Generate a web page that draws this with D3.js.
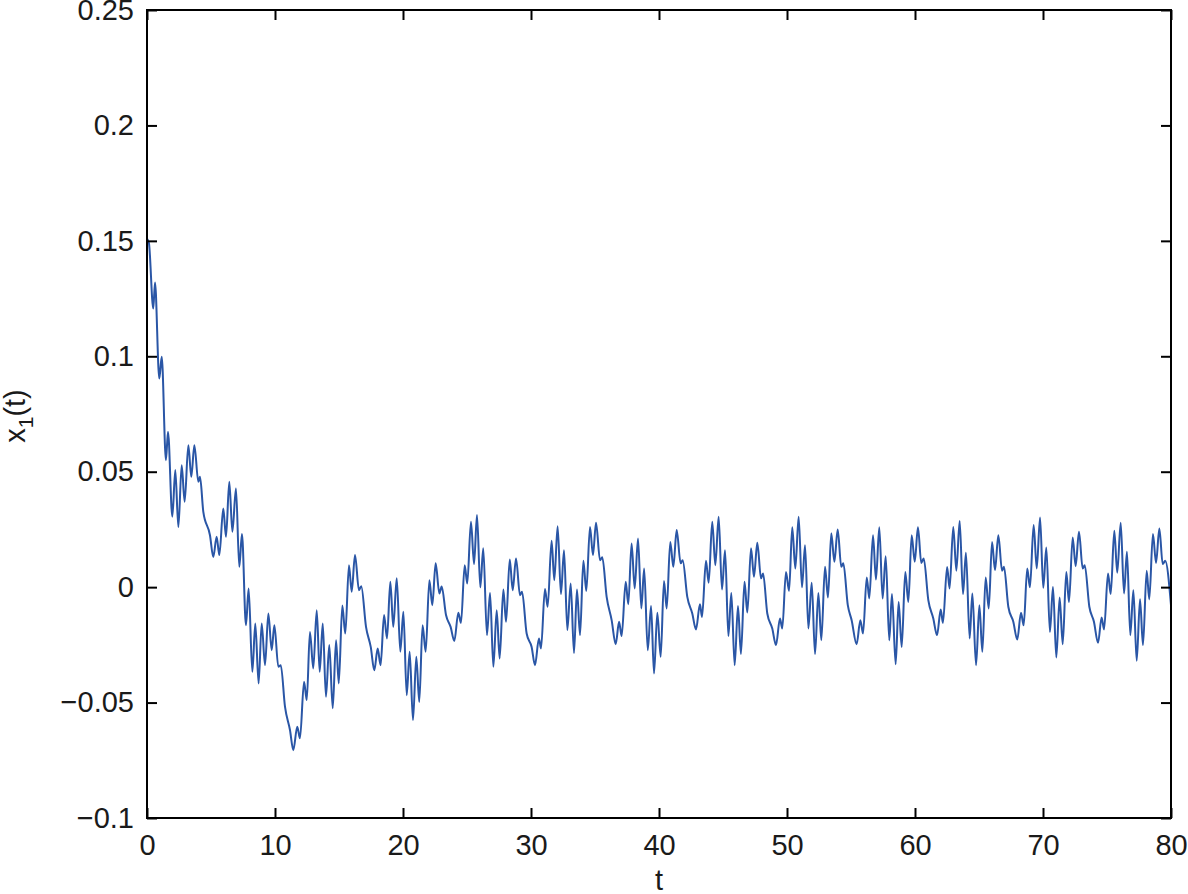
<!DOCTYPE html>
<html>
<head>
<meta charset="utf-8">
<script src="https://cdn.jsdelivr.net/npm/d3@7"></script>
<style>
  html, body { margin: 0; padding: 0; background: #fff; }
  svg { display: block; }
  text { font-family: "Liberation Sans", Arial, Helvetica, sans-serif; fill: #1a1a1a; }
</style>
</head>
<body>
<script>
// ---- data ----
const tValues = [
  0, 0.15, 0.49, 0.625, 0.96, 1.15, 1.48, 1.64, 1.98, 2.21, 2.45, 2.71, 2.94, 3.23, 3.46, 3.70, 4.01, 4.14, 4.40, 4.92,
  5.18, 5.44, 5.65, 5.96, 6.17, 6.43, 6.67, 6.95, 7.21, 7.42, 7.73, 7.94, 8.23, 8.46, 8.72, 8.96, 9.22, 9.48, 9.74, 9.95,
  10.26, 10.45, 10.78, 11.17, 11.43, 11.74, 11.95, 12.27, 12.48, 12.73, 12.99, 13.26, 13.49, 13.73, 13.98, 14.24, 14.51, 14.77, 14.98, 15.26,
  15.49, 15.78, 15.99, 16.25, 16.56, 16.74, 17.11, 17.48, 17.76, 18.02, 18.25, 18.52, 18.75, 19.01, 19.24, 19.51, 19.79, 20.03, 20.29, 20.52,
  20.78, 21.04, 21.27, 21.53, 21.77, 22.06, 22.29, 22.55, 22.84, 23.02, 23.36, 23.72, 24.01, 24.32, 24.53, 24.82, 25.02, 25.31, 25.55, 25.78,
  26.04, 26.27, 26.56, 26.80, 27.06, 27.32, 27.55, 27.84, 28.05, 28.34, 28.57, 28.83, 29.14, 29.30, 29.66, 30.05, 30.31, 30.62, 30.78, 31.09,
  31.30, 31.61, 31.82, 32.08, 32.34, 32.58, 32.84, 33.10, 33.36, 33.59, 33.83, 34.09, 34.32, 34.61, 34.84, 35.08, 35.39, 35.57, 35.91, 36.30,
  36.62, 36.88, 37.08, 37.40, 37.60, 37.86, 38.10, 38.36, 38.62, 38.84, 39.12, 39.38, 39.61, 39.87, 40.13, 40.39, 40.60, 40.88, 41.12, 41.38,
  41.69, 41.85, 42.21, 42.60, 42.89, 43.20, 43.36, 43.67, 43.88, 44.16, 44.40, 44.66, 44.92, 45.16, 45.42, 45.65, 45.91, 46.17, 46.40, 46.68,
  46.90, 47.19, 47.42, 47.68, 47.97, 48.13, 48.46, 48.85, 49.14, 49.45, 49.63, 49.92, 50.16, 50.41, 50.65, 50.91, 51.17, 51.41, 51.67, 51.93,
  52.19, 52.45, 52.68, 52.97, 53.20, 53.46, 53.70, 53.96, 54.24, 54.40, 54.75, 55.05, 55.44, 55.73, 55.94, 56.23, 56.43, 56.72, 56.95, 57.21,
  57.47, 57.71, 57.99, 58.20, 58.49, 58.72, 58.96, 59.24, 59.48, 59.74, 59.98, 60.23, 60.49, 60.68, 61.04, 61.43, 61.72, 62.01, 62.18, 62.51,
  62.70, 62.99, 63.23, 63.49, 63.75, 63.98, 64.27, 64.48, 64.77, 65.03, 65.26, 65.52, 65.76, 66.02, 66.25, 66.51, 66.80, 66.95, 67.29, 67.68,
  67.99, 68.28, 68.49, 68.77, 68.98, 69.27, 69.51, 69.77, 70.02, 70.26, 70.54, 70.78, 71.04, 71.30, 71.54, 71.82, 72.03, 72.32, 72.55, 72.81,
  73.10, 73.26, 73.62, 73.98, 74.30, 74.58, 74.77, 75.08, 75.29, 75.57, 75.80, 76.07, 76.33, 76.56, 76.82, 77.06, 77.32, 77.58, 77.81, 78.10,
  78.30, 78.59, 78.83, 79.09, 79.35, 79.55, 80.0
];
const x1Values = [
  0.151, 0.149, 0.1207, 0.132, 0.0904, 0.0998, 0.055, 0.0673, 0.0305, 0.0507, 0.026, 0.0528, 0.037, 0.0615, 0.0478, 0.0615, 0.0456, 0.0478, 0.0326, 0.0225,
  0.0131, 0.0218, 0.0139, 0.0341, 0.0218, 0.0456, 0.024, 0.0427, 0.0088, 0.023, -0.0165, -0.0006, -0.0367, -0.0157, -0.0417, -0.0157, -0.0338, -0.0114, -0.0273, -0.0165,
  -0.0345, -0.0338, -0.0518, -0.0619, -0.0706, -0.0605, -0.0655, -0.041, -0.0489, -0.0194, -0.0352, -0.01, -0.0367, -0.0157, -0.0475, -0.0251, -0.0525, -0.023, -0.0417, -0.008,
  -0.0201, 0.0095, -0.002, 0.0139, -0.0013, 0.0004, -0.0172, -0.0259, -0.036, -0.0266, -0.0338, -0.0121, -0.0222, 0.0023, -0.0172, 0.0038, -0.028, -0.0107, -0.0468, -0.028,
  -0.0576, -0.0302, -0.0497, -0.0165, -0.028, 0.003, -0.0078, 0.0103, -0.0027, 0.0003, -0.0121, -0.0172, -0.0233, -0.0111, -0.0155, 0.0095, 0.0016, 0.0283, 0.01, 0.0312,
  -0.0001, 0.0168, -0.0208, -0.0025, -0.0345, -0.01, -0.0309, -0.001, -0.015, 0.012, -0.0013, 0.0124, -0.0035, -0.002, -0.0201, -0.0259, -0.0338, -0.0222, -0.0266, -0.0008,
  -0.0085, 0.0201, 0.003, 0.0264, -0.003, 0.016, -0.0186, 0.0016, -0.0285, -0.001, -0.0208, 0.0114, -0.0016, 0.0261, 0.0139, 0.0279, 0.0117, 0.0129, -0.0042, -0.0143,
  -0.0247, -0.015, -0.0212, 0.0023, -0.0074, 0.0189, -0.0006, 0.0211, -0.0092, 0.0081, -0.0273, -0.0082, -0.0374, -0.0111, -0.0302, 0.0027, -0.0092, 0.0196, 0.0088, 0.0247,
  0.0103, 0.0117, -0.0042, -0.0114, -0.0183, -0.0074, -0.0129, 0.0114, 0.0019, 0.0283, 0.0095, 0.0305, -0.001, 0.016, -0.0212, -0.0025, -0.0338, -0.0082, -0.029, 0.0023,
  -0.011, 0.0168, 0.0045, 0.0192, 0.0038, 0.0059, -0.0114, -0.0179, -0.0251, -0.0136, -0.0179, 0.0066, -0.0016, 0.0259, 0.0081, 0.0305, -0.0001, 0.0182, -0.0179, 0.0019,
  -0.029, -0.0025, -0.023, 0.0088, -0.0045, 0.0233, 0.011, 0.025, 0.0088, 0.0103, -0.0078, -0.0143, -0.0247, -0.0143, -0.0201, 0.0042, -0.0049, 0.0225, 0.0033, 0.0259,
  -0.0049, 0.0134, -0.023, -0.003, -0.0334, -0.0064, -0.0259, 0.0066, -0.0064, 0.0225, 0.011, 0.0259, 0.0105, 0.0124, -0.0056, -0.0136, -0.0208, -0.0097, -0.0155, 0.0087,
  -0.0006, 0.0261, 0.0071, 0.0287, -0.003, 0.0149, -0.0222, -0.0027, -0.0338, -0.0078, -0.028, 0.0042, -0.0092, 0.0196, 0.0074, 0.0225, 0.0071, 0.0088, -0.0085, -0.015,
  -0.0227, -0.0111, -0.0165, 0.0081, -0.0001, 0.0269, 0.0081, 0.0302, -0.0003, 0.0172, -0.0194, 0.0001, -0.0305, -0.0045, -0.0247, 0.0066, -0.0064, 0.0215, 0.0091, 0.024,
  0.0081, 0.0095, -0.0085, -0.015, -0.0241, -0.0131, -0.0183, 0.0059, -0.003, 0.0244, 0.0062, 0.0279, -0.0027, 0.0153, -0.0208, -0.0013, -0.0319, -0.0052, -0.0251, 0.0071,
  -0.0053, 0.023, 0.0105, 0.0254, 0.01, 0.0114, -0.0078
];
const xTicks = [0, 10, 20, 30, 40, 50, 60, 70, 80];
const yTicks = [-0.1, -0.05, 0, 0.05, 0.1, 0.15, 0.2, 0.25];
const yTickLabels = ["\u22120.1", "\u22120.05", "0", "0.05", "0.1", "0.15", "0.2", "0.25"];
const xLabel = "t";

// ---- layout ----
const W = 1188, H = 894;
const margin = { left: 147, right: 17, top: 10, bottom: 76 };
const iw = W - margin.left - margin.right;
const ih = H - margin.top - margin.bottom;
const fontSize = 29;
const tickLen = 10;

const svg = d3.select("body").append("svg").attr("width", W).attr("height", H);
const g = svg.append("g").attr("transform", `translate(${margin.left},${margin.top})`);

const x = d3.scaleLinear().domain([0, 80]).range([0, iw]);
const y = d3.scaleLinear().domain([-0.1, 0.25]).range([ih, 0]);

const data = tValues.map((t, i) => ({ t, v: x1Values[i] }));

// line
const line = d3.line().x(d => x(d.t)).y(d => y(d.v)).curve(d3.curveMonotoneX);
g.append("path")
  .datum(data)
  .attr("fill", "none")
  .attr("stroke", "#2a56a6")
  .attr("stroke-width", 2)
  .attr("stroke-linejoin", "round")
  .attr("d", line);

// axes (MATLAB style: inward ticks on all four sides, boxed)
function styleAxis(sel) {
  sel.select(".domain").remove();
  sel.selectAll(".tick line").attr("stroke", "#000").attr("stroke-width", 2);
  sel.selectAll(".tick text").style("font-size", fontSize + "px").attr("fill", "#1a1a1a");
}

const xAxisB = g.append("g").attr("transform", `translate(0,${ih})`)
  .call(d3.axisBottom(x).tickValues(xTicks).tickSizeInner(-tickLen).tickSizeOuter(0).tickPadding(16).tickFormat(d3.format("d")));
styleAxis(xAxisB);

const xAxisT = g.append("g")
  .call(d3.axisTop(x).tickValues(xTicks).tickSizeInner(-tickLen).tickSizeOuter(0).tickFormat(""));
styleAxis(xAxisT);

const yAxisL = g.append("g")
  .call(d3.axisLeft(y).tickValues(yTicks).tickSizeInner(-tickLen).tickSizeOuter(0).tickPadding(13)
    .tickFormat((d, i) => yTickLabels[i]));
styleAxis(yAxisL);

const yAxisR = g.append("g").attr("transform", `translate(${iw},0)`)
  .call(d3.axisRight(y).tickValues(yTicks).tickSizeInner(-tickLen).tickSizeOuter(0).tickFormat(""));
styleAxis(yAxisR);

// box
g.append("rect")
  .attr("x", 0).attr("y", 0).attr("width", iw).attr("height", ih)
  .attr("fill", "none").attr("stroke", "#000").attr("stroke-width", 2);

// x label
svg.append("text")
  .attr("x", margin.left + iw / 2)
  .attr("y", H - 4)
  .attr("text-anchor", "middle")
  .style("font-size", fontSize + "px")
  .text(xLabel);

// y label: x_1(t), rotated
const yl = svg.append("text")
  .attr("transform", `translate(25,${margin.top + ih / 2 + 2}) rotate(-90)`)
  .attr("text-anchor", "middle")
  .style("font-size", fontSize + "px");
yl.append("tspan").text("x");
yl.append("tspan").attr("dy", 8).style("font-size", "21px").text("1");
yl.append("tspan").attr("dy", -8).text("(t)");
</script>
</body>
</html>
